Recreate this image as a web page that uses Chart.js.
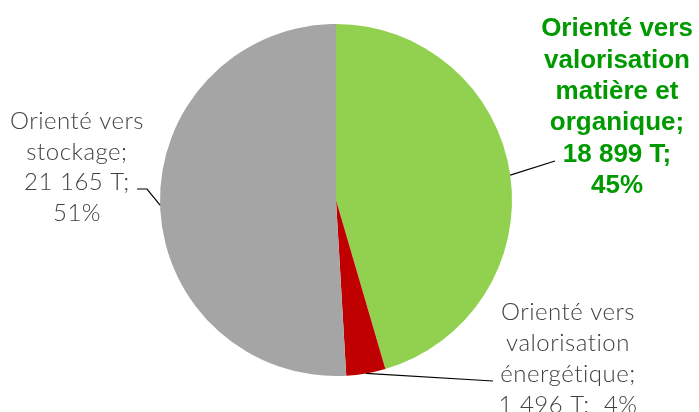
<!DOCTYPE html>
<html>
<head>
<meta charset="utf-8">
<script src="https://cdn.jsdelivr.net/npm/chart.js@4/dist/chart.umd.min.js"></script>
<style>
html,body{margin:0;padding:0;background:#fff;}
#wrap{width:699px;height:412px;position:relative;}
</style>
</head>
<body>
<div id="wrap"><canvas id="c" width="699" height="412"></canvas></div>
<script>
// Data
const categories = ["Orienté vers valorisation matière et organique", "Orienté vers valorisation énergétique", "Orienté vers stockage"];
const tonnages = [18899, 1496, 21165];
const percentLabels = ["45%", "4%", "51%"];
const tonnageLabels = ["18 899 T", "1 496 T", "21 165 T"];
const labelLines = [
  ["Orienté vers", "valorisation", "matière et", "organique;", "18 899 T;", "45%"],
  ["Orienté vers", "valorisation", "énergétique;", "1 496 T;  4%"],
  ["Orienté vers", "stockage;", "21 165 T;", "51%"]
];
const colors = ["#92D050", "#C00000", "#A5A5A5"];

// label layout (offsets relative to pie center, in px)
const labelLayout = [
  {cx: 281, top: -171, lh: 31.4, elbow: [[219, -39]], bold: true, color: "#009A00"},
  {cx: 232, top: 112, lh: 31.2, elbow: [[157, 181]], bold: false, color: "#404040"},
  {cx: -259, top: -79, lh: 30.8, elbow: [[-189, -11], [-199, -11]], bold: false, color: "#404040"}
];

const labelPlugin = {
  id: 'outLabels',
  afterDatasetsDraw(chart) {
    const ctx = chart.ctx;
    const meta = chart.getDatasetMeta(0);
    meta.data.forEach((arc, i) => {
      const p = arc.getProps(['x','y','startAngle','endAngle','outerRadius'], true);
      const mid = (p.startAngle + p.endAngle) / 2;
      const sx = p.x + Math.cos(mid) * p.outerRadius;
      const sy = p.y + Math.sin(mid) * p.outerRadius;
      const L = labelLayout[i];
      ctx.save();
      ctx.strokeStyle = "#000";
      ctx.lineWidth = 1.2;
      ctx.beginPath();
      ctx.moveTo(sx, sy);
      L.elbow.forEach(e => ctx.lineTo(p.x + e[0], p.y + e[1]));
      ctx.stroke();
      ctx.fillStyle = L.color;
      ctx.textAlign = "center";
      ctx.textBaseline = "middle";
      if (L.bold) {
        ctx.font = "bold 26px 'Liberation Sans', Arial, sans-serif";
        ctx.letterSpacing = "0px";
      } else {
        ctx.font = "300 24px Lato, 'Open Sans', sans-serif";
        ctx.letterSpacing = "0.5px";
      }
      labelLines[i].forEach((t, k) => {
        ctx.fillText(t, p.x + L.cx, p.y + L.top + k * L.lh);
      });
      ctx.restore();
    });
  }
};

new Chart(document.getElementById('c'), {
  type: 'pie',
  data: {
    labels: categories,
    datasets: [{
      data: tonnages,
      backgroundColor: colors,
      borderWidth: 0
    }]
  },
  options: {
    responsive: false,
    animation: false,
    layout: {padding: {top: 24, bottom: 36, left: 0, right: 27}},
    plugins: {legend: {display: false}, tooltip: {enabled: false}}
  },
  plugins: [labelPlugin]
});
</script>
</body>
</html>
